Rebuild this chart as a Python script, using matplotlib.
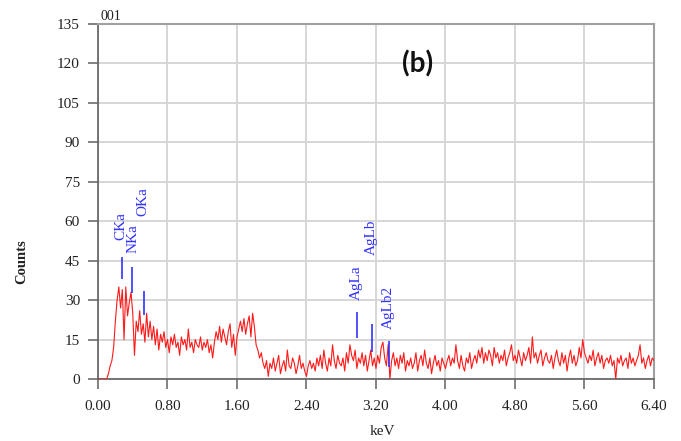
import numpy as np
import matplotlib
matplotlib.use("Agg")
import matplotlib.pyplot as plt

# ── Spectrum: counts per 0.02 keV channel, 0.00 … 6.40 keV ────────────────────
ENERGY_STEP = 0.02
COUNTS = [
    # 0.00 - 0.38
    0, 0, 0, 0, 0, 0, 2, 5, 7, 12, 22, 30, 35, 27, 34, 15, 35, 24, 29, 33,
    # 0.40 - 0.78
    25, 9, 22, 18, 26, 17, 21, 14, 25, 16, 22, 15, 20, 13, 19, 11, 17, 14, 18, 12,
    # 0.80 - 1.18
    15, 10, 16, 13, 17, 12, 14, 9, 16, 13, 15, 11, 19, 12, 14, 10, 15, 13, 12, 16,
    # 1.20 - 1.58
    11, 14, 12, 15, 10, 13, 8, 14, 18, 15, 20, 14, 19, 16, 13, 18, 21, 12, 17, 9,
    # 1.60 - 1.98
    16, 19, 22, 18, 23, 17, 21, 24, 16, 25, 20, 13, 11, 8, 10, 6, 4, 7, 1, 6,
    # 2.00 - 2.38
    4, 8, 3, 6, 9, 2, 5, 7, 3, 11, 5, 4, 8, 6, 2, 5, 9, 4, 6, 3,
    # 2.40 - 2.78
    1, 5, 7, 4, 6, 3, 8, 5, 9, 4, 11, 6, 3, 8, 5, 13, 7, 4, 9, 6,
    # 2.80 - 3.18
    5, 8, 3, 10, 6, 13, 9, 7, 11, 4, 8, 6, 10, 5, 9, 3, 7, 11, 5, 8,
    # 3.20 - 3.58
    4, 9, 6, 12, 14, 8, 5, 13, 0, 7, 10, 5, 8, 4, 9, 6, 10, 3, 7, 5,
    # 3.60 - 3.98
    8, 4, 6, 10, 3, 7, 9, 5, 11, 6, 4, 8, 2, 6, 9, 5, 7, 3, 8, 6,
    # 4.00 - 4.38
    4, 7, 9, 5, 8, 6, 13, 7, 4, 9, 5, 3, 8, 6, 10, 4, 7, 9, 6, 11,
    # 4.40 - 4.78
    8, 12, 6, 10, 7, 11, 9, 5, 12, 8, 10, 6, 9, 7, 11, 5, 8, 10, 13, 7,
    # 4.80 - 5.18
    9, 6, 11, 8, 5, 10, 7, 9, 12, 6, 16, 8, 10, 6, 9, 11, 5, 8, 10, 7,
    # 5.20 - 5.58
    6, 9, 4, 8, 11, 7, 5, 10, 6, 9, 3, 8, 11, 6, 9, 5, 7, 12, 8, 15,
    # 5.60 - 5.98
    10, 8, 6, 9, 7, 11, 5, 8, 10, 6, 9, 4, 7, 8, 6, 9, 5, 7, 0, 8,
    # 6.00 - 6.38
    6, 9, 5, 7, 8, 4, 10, 6, 8, 5, 7, 9, 13, 6, 8, 4, 7, 9, 5, 8,
    # 6.40
    7,
]
ENERGY = np.arange(len(COUNTS)) * ENERGY_STEP

# ── Peak identification markers ───────────────────────────────────────────────
PEAK_NAMES  = ["CKa", "NKa", "OKa", "AgLa", "AgLb", "AgLb2"]
PEAK_KEV    = [0.277, 0.392, 0.525, 2.980, 3.150, 3.350]
MARK_LOW    = [38.0, 32.7, 24.3, 15.5, 10.4, 4.7]
MARK_HIGH   = [46.5, 42.7, 33.6, 25.6, 20.8, 14.6]
LABEL_KEV   = [0.258, 0.400, 0.520, 2.978, 3.150, 3.342]
LABEL_BASE  = [52.8, 47.9, 62.0, 30.0, 47.2, 18.9]

SERIF = ["Liberation Serif", "DejaVu Serif"]
BLUE = "#3232ff"

fig = plt.figure(figsize=(6.81, 4.41), dpi=100)
ax = fig.add_axes([0.1439, 0.1406, 0.8164, 0.805])

ax.plot(ENERGY, COUNTS, color="#ff1a1a", linewidth=0.8, zorder=3)

for name, e, lo, hi, le, lb in zip(PEAK_NAMES, PEAK_KEV, MARK_LOW, MARK_HIGH,
                                   LABEL_KEV, LABEL_BASE):
    ax.vlines(e, lo, hi, color=BLUE, linewidth=1.2, zorder=4)
    ax.text(le, lb, name, rotation=90, ha="center", va="bottom",
            color=BLUE, fontsize=11, family=SERIF, zorder=5)

ax.set_xlim(0, 6.4)
ax.set_ylim(0, 135)
ax.set_xticks(np.arange(0, 6.41, 0.8))
ax.set_xticklabels([f"{v:.2f}" for v in np.arange(0, 6.41, 0.8)])
ax.set_yticks(np.arange(0, 136, 15))

ax.set_axisbelow(True)
ax.grid(True, color="#d6d6d6", linewidth=1.4)

for side in ("left", "bottom"):
    ax.spines[side].set_color("#606060")
    ax.spines[side].set_linewidth(1.2)
for side in ("top", "right"):
    ax.spines[side].set_color("#a0a0a0")
    ax.spines[side].set_linewidth(1.5)

ax.tick_params(axis="both", direction="out", length=7, width=1.1,
               color="#606060", labelsize=11, labelcolor="#222222")
ax.tick_params(axis="y", pad=6)
ax.tick_params(axis="x", pad=8)
for lab in ax.get_xticklabels() + ax.get_yticklabels():
    lab.set_family(SERIF)

fig.text(0.1469, 0.962, "001", family=SERIF, fontsize=10, color="#222222",
         ha="left", va="center")
fig.text(0.032, 0.406, "Counts", family=SERIF, fontsize=10.5, fontweight="bold",
         rotation=90, ha="center", va="center", color="#222222")
fig.text(0.562, 0.022, "keV", family=SERIF, fontsize=11, ha="center",
         va="center", color="#222222")
fig.text(0.613, 0.855, "(b)", family=["Lato", "DejaVu Sans"], fontsize=20,
         fontweight="bold", ha="center", va="center", color="#111111")

fig.savefig("out.png", dpi=100)
